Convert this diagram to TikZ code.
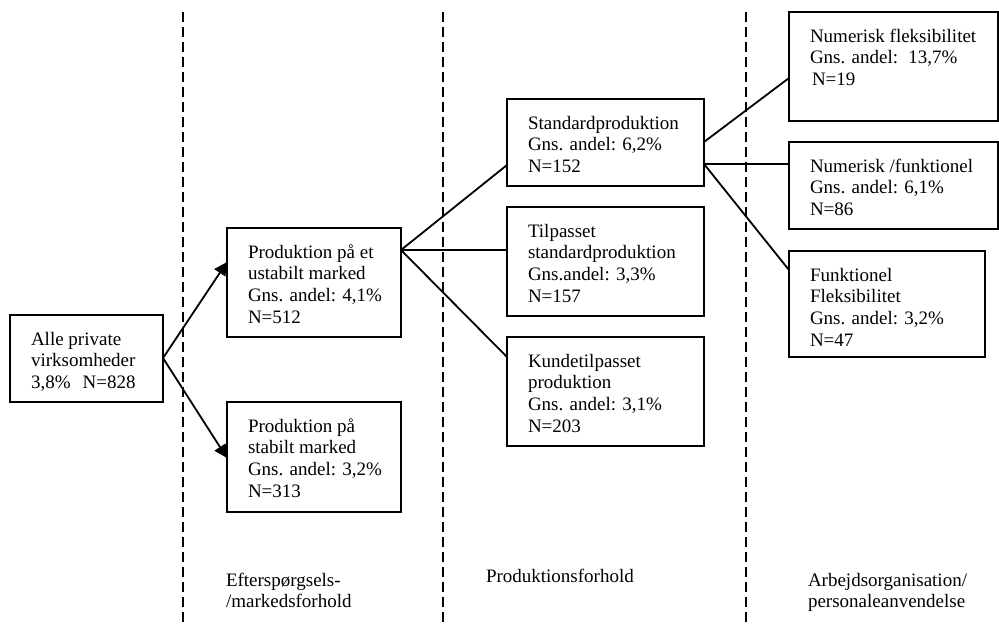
\documentclass[tikz,border=0pt]{standalone}
\usepackage{fontspec}
\setmainfont{Liberation Serif}
\usetikzlibrary{arrows.meta,calc}
\newcommand\tl[1]{\begin{tabular}[t]{@{}l@{}}#1\end{tabular}}
\tikzset{
  boxst/.style={draw, line width=2pt, inner sep=0pt, outer sep=0pt, anchor=north west},
  txt/.style={inner sep=0pt, outer sep=0pt, anchor=base west, font=\fontsize{19}{21.7}\selectfont},
  conn/.style={line width=1.8pt},
  arr/.style={conn, -{Triangle[length=13pt,width=13pt]}},
  divider/.style={line width=1.8pt, dash pattern=on 10pt off 5pt},
}
\newcommand\mybox[6]{%
  \node[boxst, minimum width=#4pt-#2pt, minimum height=#5pt-#3pt] (#1) at (#2,#3) {};
  \node[txt] (#1t) at (#2+21,#3+30) {\tl{#6}};
}
\begin{document}
\begin{tikzpicture}[x=1pt,y=-1pt]
\useasboundingbox (0,0) rectangle (999,624);
% dividers
\coordinate (d1a) at (183,12); \coordinate (d1b) at (183,624);
\coordinate (d2a) at (443,12); \coordinate (d2b) at (443,624);
\coordinate (d3a) at (746,12); \coordinate (d3b) at (746,624);
\draw[divider] (d1a) -- (d1b);
\draw[divider] (d2a) -- (d2b);
\draw[divider] (d3a) -- (d3b);
% boxes
\mybox{a}{10}{315}{163}{402}{Alle private\\virksomheder\\3,8\%\hspace{12pt}N=828}
\mybox{b}{227}{228}{401}{337}{Produktion på et\\ustabilt marked\\Gns. andel: 4,1\%\\N=512}
\mybox{c}{227}{402}{401}{512}{Produktion på\\stabilt marked\\Gns. andel: 3,2\%\\N=313}
\mybox{d}{507}{99}{704}{186}{Standardproduktion\\Gns. andel: 6,2\%\\N=152}
\mybox{e}{507}{207}{704}{316}{Tilpasset\\standardproduktion\\Gns.andel: 3,3\%\\N=157}
\mybox{f}{507}{337}{704}{446}{Kundetilpasset\\produktion\\Gns. andel: 3,1\%\\N=203}
\mybox{g}{789}{12}{998}{121}{Numerisk fleksibilitet\\Gns. andel:\hspace{4pt} 13,7\%\\\hspace{2pt}N=19}
\mybox{h}{789}{142}{998}{229}{Numerisk /funktionel\\Gns. andel: 6,1\%\\N=86}
\mybox{i}{789}{251}{985}{357}{Funktionel\\Fleksibilitet\\Gns. andel: 3,2\%\\N=47}
% connectors
\draw[arr] (a.east |- 0,358) -- (b.west |- 0,262);
\draw[arr] (a.east |- 0,358) -- (c.west |- 0,458);
\draw[conn] (b.east |- 0,250) -- (d.west |- 0,165);
\draw[conn] (b.east |- 0,250) -- (e.west |- 0,250);
\draw[conn] (b.east |- 0,250) -- (f.west |- 0,357);
\draw[conn] (d.east |- 0,142) -- (g.west |- 0,78);
\draw[conn] (d.east |- 0,164) -- (h.west |- 0,164);
\draw[conn] (d.east |- 0,164) -- (i.west |- 0,270);
% bottom labels
\node[txt] (l1) at (226,586) {\tl{Efterspørgsels-\\/markedsforhold}};
\node[txt] (l2) at (486,582) {\tl{Produktionsforhold}};
\node[txt] (l3) at (808,586) {\tl{Arbejdsorganisation/\\personaleanvendelse}};
\end{tikzpicture}
\end{document}
